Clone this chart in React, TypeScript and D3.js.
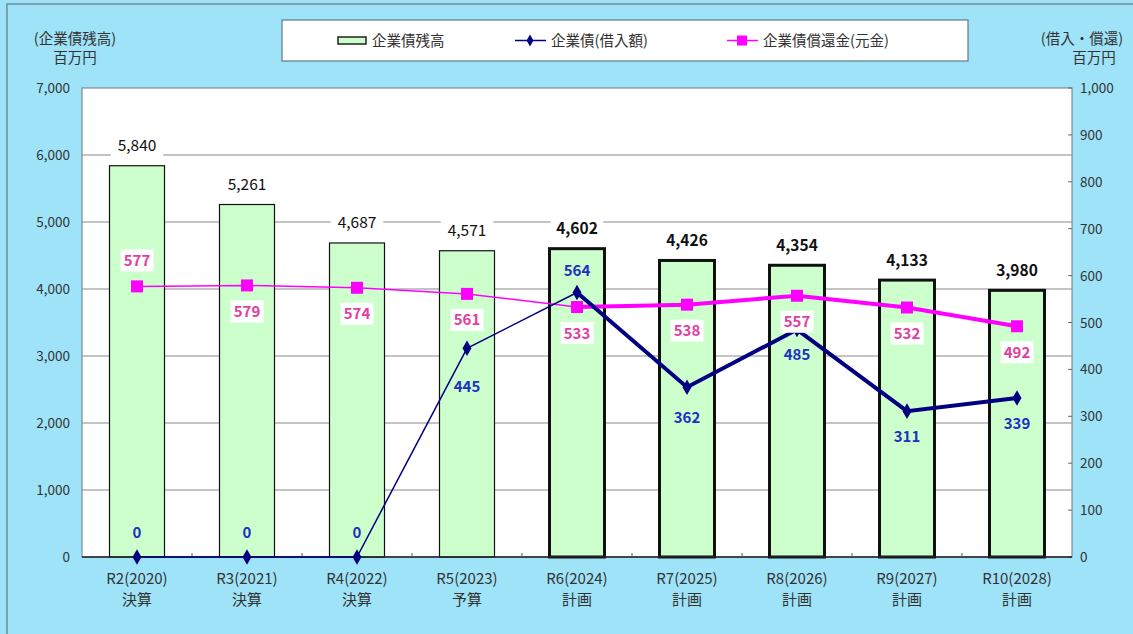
import React from "react";
import * as d3 from "d3";

const categories = ["R2(2020)", "R3(2021)", "R4(2022)", "R5(2023)", "R6(2024)", "R7(2025)", "R8(2026)", "R9(2027)", "R10(2028)"];
const subLabels = ["決算", "決算", "決算", "予算", "計画", "計画", "計画", "計画", "計画"];
const balance = [5840, 5261, 4687, 4571, 4602, 4426, 4354, 4133, 3980];
const borrowing = [0, 0, 0, 445, 564, 362, 485, 311, 339];
const repayment = [577, 579, 574, 561, 533, 538, 557, 532, 492];
const leftTicks = [0, 1000, 2000, 3000, 4000, 5000, 6000, 7000];
const rightTicks = [0, 100, 200, 300, 400, 500, 600, 700, 800, 900, 1000];
// label offsets (above = -1, below = +1)
const borrowLabelPos = [-1, -1, -1, 1, -1, 1, 1, 1, 1];
const repayLabelPos = [-1, 1, 1, 1, 1, 1, 1, 1, 1];
const planStart = 4;

const W = 1133, H = 634;
const L = 82, R = 1072, T = 88, B = 557;
const FONT = "'Noto Sans CJK JP', 'Noto Sans', sans-serif";

export default function App() {
  const x = d3.scaleBand<string>().domain(categories).range([L, R]).paddingInner(0).paddingOuter(0);
  const bw = x.bandwidth();
  const yL = d3.scaleLinear().domain([0, 7000]).range([B, T]);
  const yR = d3.scaleLinear().domain([0, 1000]).range([B, T]);
  const cx = (i: number) => (x(categories[i]) as number) + bw / 2;
  const fmt = d3.format(",");

  const seg = (vals: number[], from: number, to: number) =>
    d3.line<number>().x((_, k) => cx(from + k)).y((v) => yR(v))(vals.slice(from, to + 1)) as string;

  const textW = (s: string, fs: number) => s.length * fs * 0.6 + 6;

  return (
    <svg width={W} height={H} style={{ position: "absolute", left: 0, top: 0, fontFamily: FONT }}>
      <rect x={0} y={0} width={W} height={H} fill="#9fe3f8" />
      <rect x={7} y={4} width={W + 10} height={H + 10} fill="none" stroke="#5f7a88" strokeWidth={1.2} />

      {/* axis titles */}
      <text x={75} y={44} fontSize={14.5} fill="#333" textAnchor="middle">(企業債残高)</text>
      <text x={75} y={63} fontSize={14.5} fill="#333" textAnchor="middle">百万円</text>
      <text x={1082} y={44} fontSize={14.5} fill="#333" textAnchor="middle">(借入・償還)</text>
      <text x={1094} y={63} fontSize={14.5} fill="#333" textAnchor="middle">百万円</text>

      {/* legend */}
      <rect x={282} y={20} width={686} height={41} fill="#fff" stroke="#5f7a88" strokeWidth={1.2} />
      <rect x={338} y={37} width={28} height={7} fill="#ccffcc" stroke="#222" strokeWidth={1.5} />
      <text x={372} y={46} fontSize={14.5} fill="#333">企業債残高</text>
      <line x1={515} x2={546} y1={40.5} y2={40.5} stroke="#000080" strokeWidth={1.5} />
      <path d={d3.symbol().type(d3.symbolDiamond).size(40)() as string} transform="translate(530,40.5)" fill="#000080" />
      <text x={551} y={46} fontSize={14.5} fill="#333">企業債(借入額)</text>
      <line x1={727} x2={758} y1={40.5} y2={40.5} stroke="#ff00ff" strokeWidth={1.5} />
      <rect x={737} y={35.5} width={10} height={10} fill="#ff00ff" />
      <text x={763} y={46} fontSize={14.5} fill="#333">企業債償還金(元金)</text>

      {/* plot area */}
      <rect x={L} y={T} width={R - L} height={B - T} fill="#fff" stroke="#6a7a84" strokeWidth={1} />
      {leftTicks.slice(1, -1).map((t) => (
        <line key={t} x1={L} x2={R} y1={yL(t)} y2={yL(t)} stroke="#8a8a8a" strokeWidth={1.2} />
      ))}
      {leftTicks.map((t) => (
        <text key={t} x={70} y={yL(t) + 5} fontSize={13.5} fill="#333" textAnchor="end">{fmt(t)}</text>
      ))}
      {rightTicks.map((t) => (
        <g key={t}>
          <line x1={R - 4} x2={R} y1={yR(t)} y2={yR(t)} stroke="#666" />
          <text x={1080} y={yR(t) + 5} fontSize={13.5} fill="#333">{fmt(t)}</text>
        </g>
      ))}

      {/* bars */}
      {balance.map((v, i) => {
        const bx = (x(categories[i]) as number) + bw / 4;
        const thick = i >= planStart;
        return (
          <rect key={i} x={bx} y={yL(v)} width={bw / 2} height={B - yL(v)} fill="#ccffcc"
            stroke="#111" strokeWidth={thick ? 3 : 1.2} />
        );
      })}

      {/* x axis */}
      <line x1={L} x2={R} y1={B} y2={B} stroke="#222" strokeWidth={1.5} />
      {categories.slice(1).map((c) => (
        <line key={c} x1={x(c) as number} x2={x(c) as number} y1={B} y2={B - 4} stroke="#555" />
      ))}
      {categories.map((c, i) => (
        <g key={c}>
          <text x={cx(i)} y={584} fontSize={15} fill="#333" textAnchor="middle">{c}</text>
          <text x={cx(i)} y={605} fontSize={15} fill="#333" textAnchor="middle">{subLabels[i]}</text>
        </g>
      ))}

      {/* balance labels */}
      {balance.map((v, i) => {
        const s = fmt(v);
        const y = yL(v) - 20;
        const bold = i >= planStart;
        const w = textW(s, 15.5);
        return (
          <g key={i}>
            <rect x={cx(i) - w / 2} y={y - 11} width={w} height={22} fill="#fff" />
            <text x={cx(i)} y={y + 5.5} fontSize={15.5} fontWeight={bold ? "bold" : "normal"} fill="#111" textAnchor="middle">{s}</text>
          </g>
        );
      })}

      {/* repayment line */}
      <path d={seg(repayment, 0, planStart)} fill="none" stroke="#ff00ff" strokeWidth={1.5} />
      <path d={seg(repayment, planStart, repayment.length - 1)} fill="none" stroke="#ff00ff" strokeWidth={4} />
      {repayment.map((v, i) => (
        <rect key={i} x={cx(i) - 6} y={yR(v) - 6} width={12} height={12} fill="#ff00ff" />
      ))}

      {/* borrowing line */}
      <path d={seg(borrowing, 0, planStart)} fill="none" stroke="#000080" strokeWidth={1.5} />
      <path d={seg(borrowing, planStart, borrowing.length - 1)} fill="none" stroke="#000080" strokeWidth={4} />
      {borrowing.map((v, i) => (
        <path key={i} d={d3.symbol().type(d3.symbolDiamond).size(70)() as string}
          transform={`translate(${cx(i)},${yR(v)})`} fill="#000080" />
      ))}

      {/* repayment labels */}
      {repayment.map((v, i) => {
        const y = yR(v) + repayLabelPos[i] * 26;
        const s = String(v);
        const w = textW(s, 15);
        return (
          <g key={i}>
            <rect x={cx(i) - w / 2} y={y - 11} width={w} height={22} fill="#fff" />
            <text x={cx(i)} y={y + 5.5} fontSize={15} fontWeight="bold" fill="#e0409f" textAnchor="middle">{s}</text>
          </g>
        );
      })}

      {/* borrowing labels */}
      {borrowing.map((v, i) => {
        const off = borrowLabelPos[i] < 0 ? (v === 0 ? -25 : -22) : (i === 3 ? 38 : i === 5 ? 30 : 25);
        const y = yR(v) + off;
        return (
          <text key={i} x={cx(i)} y={y + 5.5} fontSize={15} fontWeight="bold" fill="#1f2fc0" textAnchor="middle">{v}</text>
        );
      })}
    </svg>
  );
}
